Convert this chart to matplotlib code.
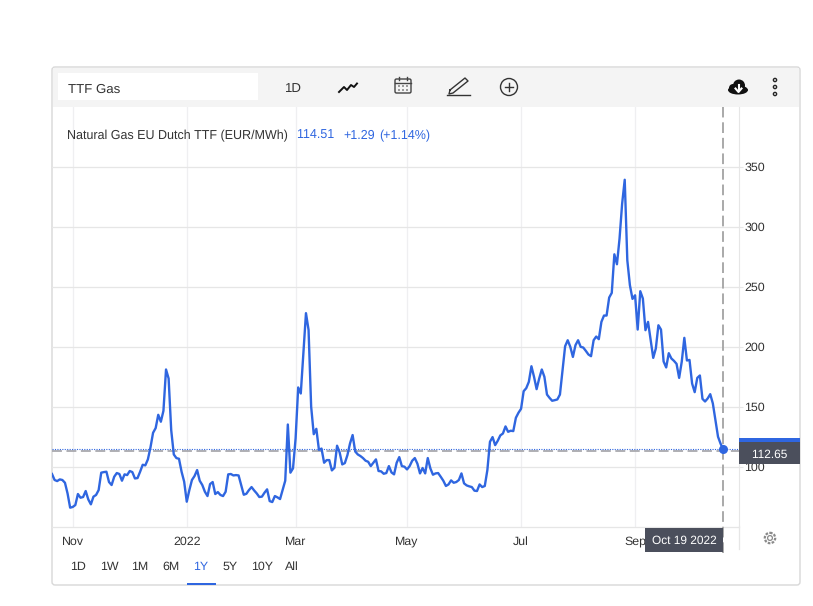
import matplotlib
matplotlib.use("Agg")
import matplotlib.pyplot as plt
from matplotlib.patches import Rectangle, Circle, FancyBboxPatch, Ellipse

plt.rcParams['font.family'] = ['Liberation Sans', 'DejaVu Sans']
plt.rcParams['text.hinting'] = 'no_hinting'
plt.rcParams['text.kerning_factor'] = 6

# daily closes, EUR/MWh
values = [
    93.8, 88.8, 87.9, 89.3, 88.8, 86.5, 77.6, 65.7, 66.3, 67.9, 77.1, 74.0, 74.6, 79.6, 72.6, 68.5,
    74.9, 76.3, 80.4, 94.9, 95.4, 95.7, 87.1, 84.6, 91.5, 94.6, 93.8, 88.2, 93.5, 92.9, 96.3, 95.4,
    90.1, 90.4, 95.7, 101.5, 101.0, 106.0, 116.0, 128.2, 132.1, 143.2, 137.4, 146.5, 181.0, 173.5,
    130.4, 110.1, 107.1, 106.5, 95.7, 87.4, 70.7, 80.4, 88.8, 92.1, 97.1, 88.2, 84.6, 79.0, 75.4,
    85.4, 87.1, 77.1, 78.7, 76.3, 75.4, 79.0, 93.5, 93.8, 92.6, 92.9, 92.6, 84.6, 76.5, 77.3, 80.4,
    82.9, 80.1, 77.6, 74.6, 74.9, 78.2, 81.0, 71.2, 70.4, 75.4, 74.3, 72.9, 80.4, 88.2, 135.1, 94.9,
    98.5, 123.5, 166.0, 161.0, 195.0, 228.0, 214.0, 150.0, 127.0, 131.5, 114.0, 115.0,
    103.2, 105.4, 105.4, 96.8, 99.0, 117.4, 111.8, 101.8, 102.9, 109.6, 119.3, 126.3, 112.6, 110.1,
    108.8, 107.1, 104.9, 104.0, 100.4, 103.2, 106.0, 96.3, 96.0, 94.0, 94.6, 100.4, 95.1, 93.5,
    103.2, 107.9, 100.4, 99.9, 97.6, 100.4, 104.9, 107.1, 102.4, 94.3, 98.8, 94.3, 107.1, 98.5,
    93.2, 94.3, 94.6, 91.5, 88.2, 83.8, 85.1, 88.5, 86.5, 87.1, 88.8, 94.3, 86.0, 84.3, 83.5, 82.9,
    79.9, 79.6, 85.1, 82.9, 83.8, 97.1, 120.7, 124.6, 117.9, 121.5, 126.0, 127.6, 133.5, 129.0,
    129.9, 129.6, 140.7, 144.9, 148.2, 162.9, 165.4, 170.7, 183.7, 174.9, 164.6, 173.5, 181.0,
    174.9, 160.1, 157.3, 154.9, 155.4, 156.0, 160.1,
    180.0, 200.4, 205.4, 199.9, 191.5, 201.3, 205.4, 199.9, 199.3, 196.5, 193.5, 192.1, 205.4,
    208.5, 206.3, 220.7, 226.0, 226.0, 241.0, 244.9, 277.1, 268.8, 290.2, 319.3, 339.3, 272.1,
    251.3, 239.9, 242.9, 214.3, 246.3, 240.2, 213.8, 220.7, 205.4, 190.7, 198.5, 217.9, 214.3,
    187.7, 182.7, 194.6, 190.2, 188.2, 185.7, 174.0, 187.4, 207.4, 188.5, 189.0, 169.3, 162.1,
    174.0, 176.0, 156.5, 154.3, 156.8, 160.4, 152.7, 138.8, 124.9, 119.0, 114.51,
]
sessions = list(range(len(values)))

last_price = 114.51
hover_price = 112.65
y_ticks = [100, 150, 200, 250, 300, 350]
month_sessions = [8, 52, 94, 137, 181, 225]
month_labels = ['Nov', '2022', 'Mar', 'May', 'Jul', 'Sep']
range_labels = ['1D', '1W', '1M', '6M', '1Y', '5Y', '10Y', 'All']
range_x = [78, 109, 140, 171, 201, 230, 262, 292]

BLUE = '#2f66e0'
TEXT = '#333333'
GRID = '#e6e6e6'
DARK = '#4b4f5c'
W, H = 813, 606

fig = plt.figure(figsize=(W / 100, H / 100), dpi=100, facecolor='white')

# pixel overlay for the page furniture
bg = fig.add_axes([0, 0, 1, 1], zorder=0)
bg.set_xlim(0, W)
bg.set_ylim(H, 0)
bg.axis('off')
bg.add_patch(FancyBboxPatch((52, 67), 748, 518, boxstyle='round,pad=0,rounding_size=3',
                            fc='white', ec='#d8d8d8', lw=1))
bg.add_patch(Rectangle((53, 68), 746, 39, fc='#f4f4f4', ec='none'))
bg.add_patch(Rectangle((58, 73), 200, 27, fc='white', ec='none'))

# main chart
ax = fig.add_axes([52 / W, 1 - 526.5 / H, 687 / W, 419.5 / H], zorder=1)
ax.patch.set_alpha(0)
step = 671.2 / (len(values) - 1)
ax.set_xlim(0, 687 / step)
ax.set_ylim(50, 400)
ax.plot(sessions, values, color=BLUE, lw=1.7, solid_joinstyle='round', zorder=4)
ax.axhline(hover_price, color='#a9a9ae', lw=1.3, ls=(0, (5.5, 2.5)), zorder=3)
ax.axhline(last_price, color=BLUE, lw=0.8, ls=(0, (1, 1.2)), zorder=3)
ax.axvline(sessions[-1], ymin=-0.064, ymax=1, color='#a9a9a9', lw=1.4, ls=(0, (5.5, 2.5)),
           clip_on=False, zorder=5)
ax.plot(sessions[-1], last_price, 'o', color=BLUE, ms=6.5, mec='none', zorder=6)

ax.set_yticks(y_ticks)
ax.yaxis.tick_right()
ax.tick_params(axis='y', length=3, width=0.8, color=GRID, labelsize=8.9, labelcolor=TEXT, pad=1)
ax.set_xticks(month_sessions)
ax.set_xticklabels(month_labels, va='baseline')
ax.tick_params(axis='x', length=0, labelsize=8.9, labelcolor=TEXT, pad=13)
ax.grid(axis='y', color=GRID, lw=0.9)
ax.grid(axis='x', color='#efeff1', lw=0.9)
ax.set_axisbelow(True)
for name in ['top', 'left']:
    ax.spines[name].set_visible(False)
ax.spines['right'].set_color(GRID)
ax.spines['bottom'].set_color(GRID)
ax.spines['bottom'].set_linewidth(0.9)

# overlay on top of the chart
top = fig.add_axes([0, 0, 1, 1], zorder=2)
top.set_xlim(0, W)
top.set_ylim(H, 0)
top.axis('off')
top.plot([739, 739], [526, 549], color=GRID, lw=0.9)

top.text(68, 93, 'TTF Gas', fontsize=9.5, color=TEXT, va='baseline')
top.text(293.5, 92.5, '1D', fontsize=9.5, color=TEXT, va='baseline', ha='center')
top.text(67, 139, 'Natural Gas EU Dutch TTF (EUR/MWh)', fontsize=9, color=TEXT, va='baseline')
top.text(296.5, 139, '114.51', fontsize=9, color=BLUE, va='baseline')
top.text(343, 139, '+1.29', fontsize=9, color=BLUE, va='baseline')
top.text(379.5, 139, '(+1.14%)', fontsize=9, color=BLUE, va='baseline')

# toolbar icons
top.plot([339, 344, 347, 351, 354, 357], [92, 87, 90, 85, 87, 83.5], color='#111111', lw=1.4)
top.add_patch(FancyBboxPatch((395, 79), 16, 14, boxstyle='round,pad=0,rounding_size=1.5',
                             fc='none', ec='#444444', lw=1))
top.plot([395, 411], [82.5, 82.5], color='#444444', lw=1)
top.plot([399, 399], [77, 80], color='#444444', lw=1)
top.plot([407, 407], [77, 80], color='#444444', lw=1)
for dx in [399, 403, 407]:
    for dy in [86, 90]:
        top.add_patch(Circle((dx, dy), 0.8, fc='#444444', ec='none'))
top.plot([450, 465, 468, 453, 449, 450], [90, 78, 81, 93, 94, 90], color='#333333', lw=1)
top.plot([447, 470], [95, 95], color='#333333', lw=1)
top.add_patch(Circle((509, 87), 8.5, fc='none', ec='#333333', lw=1))
top.plot([505, 513], [87, 87], color='#333333', lw=1)
top.plot([509, 509], [83, 91], color='#333333', lw=1)
top.add_patch(Ellipse((738, 90), 20, 9, fc='#111111', ec='none'))
top.add_patch(Circle((739, 85.5), 6, fc='#111111', ec='none'))
top.add_patch(Circle((733, 88), 4, fc='#111111', ec='none'))
top.plot([738.5, 738.5], [85, 90], color='white', lw=1.5)
top.plot([735.5, 738.5, 741.5], [88.5, 92, 88.5], color='white', lw=1.5)
for dy in [80, 87, 94]:
    top.add_patch(Circle((775, dy), 1.6, fc='white', ec='#222222', lw=1))

# value and date flags
top.add_patch(Rectangle((739, 438), 61, 4, fc=BLUE, ec='none'))
top.add_patch(Rectangle((739, 441.7), 61, 22, fc=DARK, ec='none'))
top.text(769.5, 457.5, '112.65', fontsize=8.6, color='white', ha='center', va='baseline')
top.add_patch(Rectangle((645, 527.7), 78, 24, fc=DARK, ec='none'))
top.text(684, 544, 'Oct 19 2022', fontsize=8.6, color='white', ha='center', va='baseline')

# settings gear
top.add_patch(Circle((770, 538), 5.2, fc='none', ec='#8a8a8a', lw=1.6, ls=(0, (1.2, 0.6))))
top.add_patch(Circle((770, 538), 2.4, fc='none', ec='#8a8a8a', lw=0.9))

# range selector
for label, x in zip(range_labels, range_x):
    color = BLUE if label == '1Y' else TEXT
    top.text(x, 570, label, fontsize=8.9, color=color, ha='center', va='baseline')
top.add_patch(Rectangle((187, 583.3), 29, 1.9, fc=BLUE, ec='none'))

fig.savefig('out.png', dpi=100)
